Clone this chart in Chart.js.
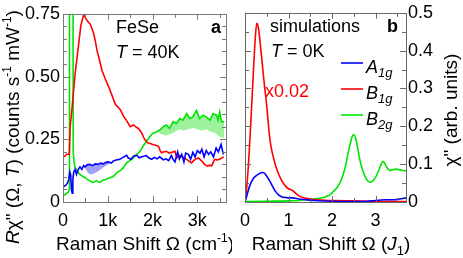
<!DOCTYPE html>
<html>
<head>
<meta charset="utf-8">
<script src="https://cdn.jsdelivr.net/npm/chart.js@4.4.1/dist/chart.umd.min.js"></script>
<style>
  html, body { margin: 0; padding: 0; background: #fff; }
  body { width: 463px; height: 258px; position: relative; overflow: hidden; }
  canvas { position: absolute; top: 0; }
  #panel-a { left: 0; }
  #panel-b { left: 232px; }
</style>
</head>
<body>
<canvas id="panel-a" width="232" height="258"></canvas>
<canvas id="panel-b" width="231" height="258"></canvas>
<script>
/* FeSe Raman response: (a) measured at 40K, (b) simulated at 0K */

const FONT = '"Liberation Sans", Arial, Helvetica, sans-serif';

// ---------------- panel a: experiment, Raman shift in cm^-1 ----------------
const expA1gShift = [0, 50, 100, 130, 150, 170, 190, 205, 220, 240, 270, 300, 340, 380, 420, 460, 490, 540, 600, 660, 720, 780, 840, 900, 960, 1020, 1080, 1120, 1200, 1270, 1340, 1420, 1460, 1520, 1580, 1650, 1700, 1760, 1860, 1920, 1980, 2040, 2100, 2160, 2240, 2300, 2360, 2420, 2460, 2500, 2560, 2600, 2650, 2700, 2740, 2800, 2850, 2900, 2950, 3000, 3060, 3100, 3150, 3200, 3250, 3300, 3360, 3420, 3470, 3530, 3580];
const expA1g      = [0.06, 0.065, 0.075, 0.09, 0.12, 0.11, 0.05, 0.035, 0.09, 0.12, 0.13, 0.11, 0.13, 0.14, 0.13, 0.145, 0.14, 0.148, 0.15, 0.145, 0.152, 0.15, 0.155, 0.152, 0.158, 0.16, 0.155, 0.163, 0.168, 0.17, 0.178, 0.186, 0.175, 0.17, 0.183, 0.186, 0.176, 0.18, 0.185, 0.175, 0.17, 0.178, 0.172, 0.18, 0.168, 0.172, 0.165, 0.185, 0.17, 0.16, 0.2, 0.172, 0.19, 0.16, 0.195, 0.19, 0.17, 0.198, 0.18, 0.205, 0.195, 0.21, 0.18, 0.205, 0.19, 0.2, 0.18, 0.215, 0.2, 0.23, 0.19];

const expB1gShift = [0, 40, 80, 120, 140, 160, 200, 270, 350, 400, 460, 500, 550, 610, 680, 720, 760, 800, 870, 940, 1020, 1090, 1170, 1230, 1280, 1350, 1400, 1450, 1500, 1570, 1620, 1680, 1720, 1760, 1800, 1830, 1870, 1900, 1960, 2020, 2080, 2130, 2170, 2200, 2260, 2310, 2370, 2430, 2500, 2540, 2600, 2650, 2710, 2760, 2820, 2870, 2920, 2950, 3020, 3060, 3100, 3160, 3210, 3270, 3320, 3360, 3390, 3440, 3500, 3540, 3590];
const expB1g      = [0.18, 0.182, 0.19, 0.19, 0.19, 0.3, 0.37, 0.51, 0.63, 0.705, 0.745, 0.735, 0.72, 0.708, 0.675, 0.643, 0.603, 0.577, 0.525, 0.492, 0.459, 0.427, 0.388, 0.378, 0.368, 0.342, 0.33, 0.315, 0.3, 0.307, 0.3, 0.293, 0.285, 0.274, 0.258, 0.248, 0.24, 0.235, 0.232, 0.228, 0.225, 0.222, 0.205, 0.196, 0.2, 0.202, 0.195, 0.198, 0.202, 0.176, 0.185, 0.183, 0.175, 0.17, 0.162, 0.156, 0.165, 0.17, 0.176, 0.17, 0.163, 0.15, 0.144, 0.146, 0.144, 0.16, 0.17, 0.168, 0.17, 0.175, 0.18];

// the narrow phonon line near 180 cm^-1 runs far off the top of the frame
const expB2gShift = [0, 50, 120, 140, 145, 220, 228, 250, 270, 300, 340, 380, 420, 490, 540, 600, 680, 750, 790, 830, 900, 970, 1050, 1120, 1160, 1200, 1270, 1350, 1420, 1500, 1570, 1640, 1720, 1790, 1860, 1940, 2010, 2090, 2160, 2240, 2310, 2380, 2460, 2530, 2610, 2680, 2760, 2830, 2900, 2980, 3050, 3130, 3200, 3280, 3350, 3430, 3460, 3500, 3540, 3600];
const expB2g      = [0.026, 0.03, 0.04, 0.05, 1.5, 1.5, 0.2, 0.155, 0.137, 0.13, 0.117, 0.11, 0.104, 0.098, 0.09, 0.085, 0.078, 0.085, 0.08, 0.078, 0.088, 0.091, 0.098, 0.101, 0.108, 0.117, 0.124, 0.137, 0.156, 0.166, 0.176, 0.189, 0.202, 0.222, 0.241, 0.261, 0.274, 0.28, 0.287, 0.3, 0.307, 0.293, 0.32, 0.313, 0.333, 0.326, 0.352, 0.333, 0.339, 0.365, 0.333, 0.346, 0.339, 0.326, 0.352, 0.346, 0.326, 0.359, 0.32, 0.32];

// lower edges of the shaded spread regions
const bandB2gShift = [2090, 2200, 2300, 2400, 2500, 2600, 2700, 2800, 2900, 3000, 3100, 3200, 3300, 3400, 3500, 3600];
const bandB2gLow   = [0.28, 0.27, 0.265, 0.27, 0.28, 0.29, 0.285, 0.29, 0.295, 0.29, 0.285, 0.29, 0.28, 0.275, 0.26, 0.255];
const bandA1gShift = [480, 540, 600, 680, 760, 840, 920, 1000, 1080];
const bandA1gLow   = [0.14, 0.12, 0.11, 0.113, 0.12, 0.13, 0.14, 0.148, 0.155];

const expShiftTicks = [0, 1000, 2000, 3000];
const expLoadTicks  = [0, 0.25, 0.5, 0.75];

// ---------------- panel b: simulation, Raman shift in units of J1 ----------------
const simA1gShift = [0, 0.05, 0.1, 0.19, 0.3, 0.4, 0.45, 0.5, 0.57, 0.64, 0.7, 0.78, 0.85, 0.93, 1.0, 1.08, 1.15, 1.23, 1.4, 1.6, 2.0, 2.4, 2.7, 2.9, 3.0, 3.2, 3.4, 3.55, 3.7];
const simA1g      = [0, 0.02, 0.04, 0.062, 0.073, 0.078, 0.076, 0.068, 0.055, 0.04, 0.028, 0.018, 0.013, 0.012, 0.011, 0.011, 0.01, 0.008, 0.006, 0.004, 0.002, 0.001, 0.001, 0.003, 0.004, 0.006, 0.006, 0.008, 0.011];

// B1g already multiplied by 0.02
const simB1gShift = [0, 0.04, 0.08, 0.12, 0.16, 0.2, 0.24, 0.27, 0.3, 0.34, 0.38, 0.41, 0.45, 0.49, 0.53, 0.56, 0.6, 0.67, 0.72, 0.78, 0.85, 0.93, 1.0, 1.08, 1.15, 1.23, 1.35, 1.5, 1.75, 2.0, 2.5, 3.0, 3.7];
const simB1g      = [0, 0.04, 0.1, 0.18, 0.27, 0.36, 0.44, 0.472, 0.465, 0.43, 0.385, 0.35, 0.305, 0.265, 0.215, 0.178, 0.145, 0.11, 0.09, 0.072, 0.055, 0.042, 0.035, 0.031, 0.025, 0.017, 0.011, 0.008, 0.005, 0.004, 0.003, 0.002, 0.001];

const simB2gShift = [0, 0.5, 1.0, 1.23, 1.4, 1.6, 1.8, 1.9, 1.97, 2.05, 2.12, 2.2, 2.26, 2.32, 2.37, 2.42, 2.46, 2.5, 2.54, 2.58, 2.63, 2.67, 2.71, 2.77, 2.82, 2.87, 2.93, 3.0, 3.06, 3.11, 3.15, 3.18, 3.22, 3.27, 3.33, 3.4, 3.45, 3.52, 3.6, 3.7];
const simB2g      = [0.001, 0.002, 0.003, 0.004, 0.006, 0.008, 0.012, 0.016, 0.021, 0.03, 0.039, 0.055, 0.074, 0.1, 0.13, 0.155, 0.172, 0.178, 0.17, 0.148, 0.117, 0.097, 0.082, 0.065, 0.056, 0.052, 0.055, 0.065, 0.08, 0.094, 0.105, 0.107, 0.1, 0.09, 0.083, 0.085, 0.087, 0.086, 0.084, 0.082];

const simShiftTicks = [0, 1, 2, 3];
const simChiTicks   = [0, 0.1, 0.2, 0.3, 0.4, 0.5];

const RED = "#ff0000";
const BLUE = "#0000ff";
const GREEN = "#00e400";

// ------------------------------------------------------------------
// Helpers
// ------------------------------------------------------------------

function pts(xs, ys) {
  return xs.map((x, i) => ({ x, y: ys[i] }));
}

function lineSet(label, xs, ys, color, extra) {
  return Object.assign({
    label,
    data: pts(xs, ys),
    borderColor: color,
    backgroundColor: color,
    borderWidth: 1.6,
    pointRadius: 0,
    fill: false,
    tension: 0,
  }, extra || {});
}

function font(size, style) {
  return `${style || ""} ${size}px ${FONT}`.trim();
}

// parts: [{t, it, bold, sub, sup}] drawn left to right on one baseline
function partFont(p, size) {
  const s = (p.sub || p.sup) ? Math.round(size * (p.sub ? 0.7 : 0.62)) : size;
  return font(s, (p.it ? "italic " : "") + (p.bold ? "bold" : ""));
}

function richWidth(ctx, parts, size) {
  let w = 0;
  parts.forEach(p => { ctx.font = partFont(p, size); w += ctx.measureText(p.t).width; });
  return w;
}

function drawRich(ctx, x, y, parts, size, color, align) {
  ctx.save();
  ctx.fillStyle = color;
  ctx.textBaseline = "middle";
  ctx.textAlign = "left";
  const w = richWidth(ctx, parts, size);
  let cx = align === "center" ? x - w / 2 : align === "right" ? x - w : x;
  parts.forEach(p => {
    ctx.font = partFont(p, size);
    let dy = 0;
    if (p.sub) dy = size * 0.32;
    if (p.sup) dy = -size * 0.32;
    ctx.fillText(p.t, cx, y + dy);
    cx += ctx.measureText(p.t).width;
  });
  ctx.restore();
}

function drawRotated(ctx, x, y, parts, size) {
  ctx.save();
  ctx.translate(x, y);
  ctx.rotate(-Math.PI / 2);
  drawRich(ctx, 0, 0, parts, size, "#000", "center");
  ctx.restore();
}

function range(from, to, step) {
  const out = [];
  for (let v = from; v <= to + step * 1e-6; v += step) out.push(+v.toFixed(6));
  return out;
}

// frame with inward ticks on all four sides
function drawFrame(chart, xMinor, xMajor, yMinor, yMajor, color) {
  const { ctx, chartArea: a, scales } = chart;
  ctx.save();
  ctx.strokeStyle = color;
  ctx.lineWidth = 1;
  ctx.strokeRect(Math.round(a.left) + 0.5, Math.round(a.top) + 0.5,
    Math.round(a.right - a.left), Math.round(a.bottom - a.top));
  ctx.beginPath();
  xMinor.forEach(v => {
    const px = Math.round(scales.x.getPixelForValue(v)) + 0.5;
    const len = xMajor.includes(v) ? 6 : 4;
    ctx.moveTo(px, a.bottom); ctx.lineTo(px, a.bottom - len);
    ctx.moveTo(px, a.top); ctx.lineTo(px, a.top + len);
  });
  yMinor.forEach(v => {
    const py = Math.round(scales.y.getPixelForValue(v)) + 0.5;
    const len = yMajor.includes(v) ? 6 : 4;
    ctx.moveTo(a.left, py); ctx.lineTo(a.left + len, py);
    ctx.moveTo(a.right, py); ctx.lineTo(a.right - len, py);
  });
  ctx.stroke();
  ctx.restore();
}

function fixedTicks(values) {
  return scale => { scale.ticks = values.map(value => ({ value })); };
}

const tickFont = { family: FONT, size: 18 };

// ------------------------------------------------------------------
// Panel a
// ------------------------------------------------------------------

const panelA = {
  id: "panelA",
  afterDraw(chart) {
    const ctx = chart.ctx;
    drawFrame(chart, range(0, 3500, 500), expShiftTicks, range(0, 0.75, 0.05), expLoadTicks, "#7a7a7a");
    drawRich(ctx, 116, 28, [{ t: "FeSe" }], 18, "#000");
    drawRich(ctx, 116, 53, [{ t: "T", it: true }, { t: " = 40K" }], 18, "#000");
    drawRich(ctx, 221, 28, [{ t: "a", bold: true }], 18, "#000", "right");
    drawRich(ctx, 145, 245, [{ t: "Raman Shift Ω (cm" }, { t: "-1", sup: true }, { t: ")" }], 19, "#000", "center");
    drawRotated(ctx, 14, 127, [
      { t: "R", it: true }, { t: "χ\" (Ω, " }, { t: "T", it: true },
      { t: ") (counts s" }, { t: "-1", sup: true }, { t: " mW" }, { t: "-1", sup: true }, { t: ")" },
    ], 19);
  },
};

new Chart(document.getElementById("panel-a"), {
  type: "line",
  data: {
    datasets: [
      lineSet("A1g", expA1gShift, expA1g, BLUE),
      lineSet("B1g", expB1gShift, expB1g, RED),
      lineSet("B2g", expB2gShift, expB2g, GREEN),
      lineSet("B2g spread", bandB2gShift, bandB2gLow, "rgba(0,0,0,0)",
        { fill: 2, backgroundColor: "#9ef29e", borderWidth: 0 }),
      lineSet("A1g spread", bandA1gShift, bandA1gLow, "rgba(0,0,0,0)",
        { fill: 0, backgroundColor: "#a0a0f4", borderWidth: 0 }),
    ],
  },
  options: {
    responsive: false,
    animation: false,
    layout: { padding: { left: 0, right: 6, top: 11, bottom: 0 } },
    plugins: { legend: { display: false }, tooltip: { enabled: false } },
    scales: {
      x: {
        type: "linear", min: 0, max: 3640,
        afterBuildTicks: fixedTicks(expShiftTicks),
        afterFit: s => { s.height = 56; },
        grid: { display: false, drawTicks: false },
        border: { display: false },
        ticks: {
          font: tickFont, color: "#000", padding: 8, maxRotation: 0,
          callback: v => v === 0 ? "0" : (v / 1000) + "k",
        },
      },
      y: {
        min: 0, max: 0.75,
        afterBuildTicks: fixedTicks(expLoadTicks),
        afterFit: s => { s.width = 63; },
        grid: { display: false, drawTicks: false },
        border: { display: false },
        ticks: {
          font: tickFont, color: "#000", padding: 3,
          callback: v => v === 0 ? "0" : v.toFixed(2),
        },
      },
    },
  },
  plugins: [panelA],
});

// ------------------------------------------------------------------
// Panel b
// ------------------------------------------------------------------

const panelB = {
  id: "panelB",
  afterDraw(chart) {
    const ctx = chart.ctx;
    drawFrame(chart, range(0, 3.5, 0.5), simShiftTicks, range(0, 0.5, 0.05), simChiTicks, "#6a6a6a");
    drawRich(ctx, 38, 27, [{ t: "simulations" }], 18, "#000");
    drawRich(ctx, 39, 52, [{ t: "T", it: true }, { t: " = 0K" }], 18, "#000");
    drawRich(ctx, 166, 27, [{ t: "b", bold: true }], 18, "#000", "right");
    drawRich(ctx, 33, 92, [{ t: "x0.02" }], 18, RED);

    // legend
    const rows = [
      { y: 63, color: BLUE, sub: "1g" },
      { y: 89, color: RED, sub: "1g" },
      { y: 115, color: GREEN, sub: "2g" },
    ];
    const names = ["A", "B", "B"];
    ctx.save();
    ctx.lineWidth = 1.6;
    rows.forEach((r, i) => {
      ctx.strokeStyle = r.color;
      ctx.beginPath();
      ctx.moveTo(109, r.y); ctx.lineTo(131, r.y);
      ctx.stroke();
      drawRich(ctx, 134, r.y + 5, [{ t: names[i], it: true }, { t: r.sub, it: true, sub: true }], 18, "#000");
    });
    ctx.restore();

    drawRich(ctx, 99, 245, [{ t: "Raman Shift Ω (" }, { t: "J", it: true }, { t: "1", sub: true }, { t: ")" }], 19, "#000", "center");
    drawRotated(ctx, 220, 110, [{ t: "χ\" (arb. units)" }], 19);
  },
};

new Chart(document.getElementById("panel-b"), {
  type: "line",
  data: {
    datasets: [
      lineSet("A1g", simA1gShift, simA1g, BLUE, { cubicInterpolationMode: "monotone" }),
      lineSet("B1g", simB1gShift, simB1g, RED, { cubicInterpolationMode: "monotone" }),
      lineSet("B2g", simB2gShift, simB2g, GREEN, { cubicInterpolationMode: "monotone" }),
    ],
  },
  options: {
    responsive: false,
    animation: false,
    layout: { padding: { left: 8, right: 0, top: 11, bottom: 0 } },
    plugins: { legend: { display: false }, tooltip: { enabled: false } },
    scales: {
      x: {
        type: "linear", min: 0, max: 3.7,
        afterBuildTicks: fixedTicks(simShiftTicks),
        afterFit: s => { s.height = 56; },
        grid: { display: false, drawTicks: false },
        border: { display: false },
        ticks: { font: tickFont, color: "#000", padding: 8, maxRotation: 0, callback: v => String(v) },
      },
      y: {
        position: "right", min: 0, max: 0.5,
        afterBuildTicks: fixedTicks(simChiTicks),
        afterFit: s => { s.width = 57; },
        grid: { display: false, drawTicks: false },
        border: { display: false },
        ticks: {
          font: tickFont, color: "#000", padding: 2,
          callback: v => v === 0 ? "0" : v.toFixed(1),
        },
      },
    },
  },
  plugins: [panelB],
});
</script>
</body>
</html>
